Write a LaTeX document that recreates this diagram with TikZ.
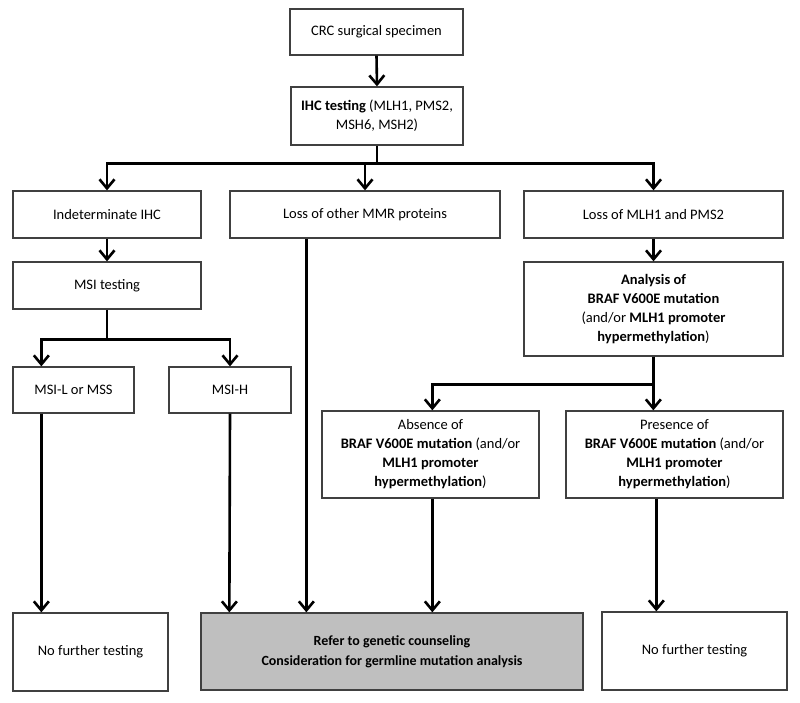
\documentclass[tikz,border=0pt]{standalone}
\usepackage{fontspec}
\setmainfont{Carlito}
\usetikzlibrary{arrows.meta,calc}
\begin{document}
\begin{tikzpicture}[x=1pt,y=-1pt,
  box/.style={draw=black!75,line width=1.3pt,rectangle,align=center,inner sep=2pt,
    font=\fontsize{14.5}{19}\selectfont},
  arr/.style={line width=2.6pt,-{Straight Barb[length=9pt,width=15pt,line width=2.6pt]}},
  ln/.style={line width=2.6pt}]
\useasboundingbox[fill=white] (0,0) rectangle (800,702);
% nodes
\node[box,minimum width=173pt,minimum height=46pt] (crc) at (376.5,32) {CRC surgical specimen};
\node[box,minimum width=172pt,minimum height=58pt] (ihc) at (377,116) {\textbf{IHC testing} (MLH1, PMS2,\\MSH6, MSH2)};
\node[box,minimum width=188pt,minimum height=47pt] (ind) at (107,214.5) {Indeterminate IHC};
\node[box,minimum width=270pt,minimum height=47pt] (other) at (365,214.5) {Loss of other MMR proteins};
\node[box,minimum width=259pt,minimum height=47pt] (mlh) at (653.5,214.5) {Loss of MLH1 and PMS2};
\node[box,minimum width=188pt,minimum height=47pt] (msi) at (107,285.5) {MSI testing};
\node[box,minimum width=121pt,minimum height=46pt] (msil) at (73.5,390) {MSI-L or MSS};
\node[box,minimum width=122pt,minimum height=46pt] (msih) at (230,390) {MSI-H};
\node[box,minimum width=259pt,minimum height=94pt] (ana) at (653.5,309) {\textbf{Analysis of}\\\textbf{BRAF V600E mutation}\\(and/or \textbf{MLH1 promoter}\\\textbf{hypermethylation})};
\node[box,minimum width=217pt,minimum height=87pt] (abs) at (430.5,454.5) {Absence of\\\textbf{BRAF V600E mutation} (and/or\\\textbf{MLH1 promoter}\\\textbf{hypermethylation})};
\node[box,minimum width=217pt,minimum height=87pt] (pres) at (674.5,454.5) {Presence of\\\textbf{BRAF V600E mutation} (and/or\\\textbf{MLH1 promoter}\\\textbf{hypermethylation})};
\node[box,minimum width=155pt,minimum height=78pt] (nft1) at (90.5,652) {No further testing};
\node[box,fill=black!25,minimum width=382pt,minimum height=77pt,font=\fontsize{14}{20}\selectfont\bfseries] (refer) at (392,651.5) {Refer to genetic counseling\\Consideration for germline mutation analysis};
\node[box,minimum width=185pt,minimum height=78pt] (nft2) at (694.5,651) {No further testing};
% connectors
\draw[arr] (crc.south) -- (ihc.north);
\coordinate (hb) at ($(ihc.south)+(0,18)$);
\draw[ln] (ihc.south) -- (hb);
\draw[arr] (hb) -| (ind.north);
\draw[arr] (hb) -| (mlh.north);
\draw[arr] (hb) -| (other.north);
\draw[arr] (ind.south) -- (msi.north);
\coordinate (mb) at ($(msi.south)+(0,30)$);
\draw[ln] (msi.south) -- (mb);
\draw[arr] (mb) -| ($(msil.north west)+(29,0)$);
\draw[arr] (mb) -| (msih.north);
\draw[arr] ($(msil.south west)+(29,0)$) -- ($(nft1.north west)+(29,0)$);
\draw[arr] (msih.south) -- ($(refer.north west)+(29,0)$);
\draw[arr] ($(other.south west)+(77,0)$) -- ($(refer.north west)+(106,0)$);
\draw[arr] (mlh.south) -- (ana.north);
\coordinate (ab) at ($(ana.south)+(0,28)$);
\draw[ln] (ana.south) -- (ab);
\draw[arr] (ab) -| ($(abs.north west)+(111,0)$);
\draw[arr] (ab) -| ($(pres.north west)+(88,0)$);
\draw[arr] ($(abs.south west)+(111,0)$) -- ($(refer.north west)+(232,0)$);
\draw[arr] ($(pres.south west)+(91,0)$) -- ($(nft2.north west)+(55,0)$);
\end{tikzpicture}
\end{document}
